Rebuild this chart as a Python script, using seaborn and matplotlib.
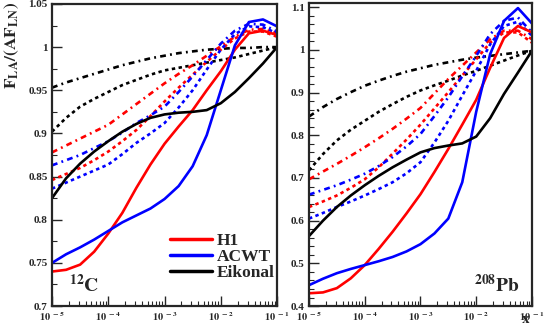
import numpy as np
import pandas as pd
import seaborn as sns
import matplotlib.pyplot as plt
from matplotlib.ticker import MultipleLocator, FormatStrFormatter, LogLocator, NullFormatter

sns.set_style('ticks')
plt.rcParams['font.family'] = ['Liberation Serif', 'DejaVu Serif']
plt.rcParams['font.weight'] = 'bold'
plt.rcParams['mathtext.fontset'] = 'stix'

# x grid (quarter decades from 1e-5 to 1e-1), same for every curve
x_vals = [1e-5, 1.78e-5, 3.16e-5, 5.62e-5, 1e-4, 1.78e-4, 3.16e-4, 5.62e-4, 1e-3,
          1.78e-3, 3.16e-3, 5.62e-3, 1e-2, 1.78e-2, 3.16e-2, 5.62e-2, 1e-1]

# 12C panel
c_h1 = [0.740, 0.742, 0.748, 0.763, 0.784, 0.808, 0.837, 0.864, 0.888, 0.908, 0.927, 0.950, 0.972, 0.997, 1.016, 1.019, 1.014]
c_h1_dd = [0.878, 0.886, 0.894, 0.902, 0.910, 0.922, 0.934, 0.946, 0.958, 0.969, 0.979, 0.990, 1.001, 1.012, 1.020, 1.021, 1.016]
c_h1_ds = [0.846, 0.853, 0.860, 0.869, 0.879, 0.891, 0.904, 0.920, 0.937, 0.953, 0.968, 0.983, 0.997, 1.010, 1.018, 1.018, 1.012]
c_acwt = [0.750, 0.760, 0.768, 0.777, 0.787, 0.797, 0.805, 0.813, 0.824, 0.839, 0.862, 0.898, 0.950, 1.002, 1.029, 1.032, 1.024]
c_acwt_dd = [0.863, 0.869, 0.875, 0.883, 0.891, 0.901, 0.912, 0.921, 0.931, 0.948, 0.966, 0.985, 1.004, 1.019, 1.027, 1.026, 1.018]
c_acwt_ds = [0.836, 0.843, 0.850, 0.857, 0.864, 0.876, 0.889, 0.900, 0.912, 0.930, 0.950, 0.974, 0.997, 1.015, 1.024, 1.023, 1.016]
c_eik = [0.825, 0.848, 0.865, 0.879, 0.891, 0.902, 0.911, 0.918, 0.922, 0.924, 0.925, 0.927, 0.935, 0.948, 0.964, 0.981, 1.000]
c_eik_dd = [0.953, 0.959, 0.964, 0.969, 0.974, 0.979, 0.983, 0.987, 0.990, 0.993, 0.995, 0.997, 0.998, 0.999, 0.999, 1.000, 1.000]
c_eik_ds = [0.902, 0.918, 0.931, 0.940, 0.948, 0.956, 0.962, 0.968, 0.973, 0.976, 0.979, 0.982, 0.985, 0.988, 0.992, 0.996, 1.000]

# 208Pb panel
pb_h1 = [0.430, 0.432, 0.442, 0.465, 0.496, 0.534, 0.574, 0.617, 0.662, 0.714, 0.768, 0.825, 0.883, 0.958, 1.028, 1.056, 1.041]
pb_h1_dd = [0.697, 0.715, 0.733, 0.752, 0.772, 0.793, 0.815, 0.839, 0.864, 0.898, 0.932, 0.963, 0.994, 1.025, 1.045, 1.045, 1.025]
pb_h1_ds = [0.632, 0.645, 0.659, 0.677, 0.697, 0.725, 0.757, 0.790, 0.825, 0.863, 0.901, 0.940, 0.978, 1.017, 1.041, 1.041, 1.017]
pb_acwt = [0.449, 0.464, 0.477, 0.487, 0.496, 0.505, 0.515, 0.528, 0.545, 0.570, 0.605, 0.690, 0.855, 0.990, 1.068, 1.098, 1.062]
pb_acwt_dd = [0.661, 0.672, 0.683, 0.696, 0.710, 0.728, 0.749, 0.774, 0.803, 0.845, 0.889, 0.938, 0.986, 1.037, 1.068, 1.076, 1.041]
pb_acwt_ds = [0.605, 0.618, 0.632, 0.645, 0.659, 0.674, 0.690, 0.711, 0.737, 0.783, 0.834, 0.893, 0.951, 1.013, 1.056, 1.066, 1.033]
pb_eik = [0.564, 0.600, 0.632, 0.659, 0.683, 0.705, 0.725, 0.743, 0.760, 0.770, 0.776, 0.781, 0.797, 0.840, 0.897, 0.947, 0.998]
pb_eik_dd = [0.844, 0.866, 0.885, 0.901, 0.916, 0.928, 0.939, 0.949, 0.957, 0.965, 0.971, 0.977, 0.982, 0.986, 0.990, 0.994, 0.998]
pb_eik_ds = [0.718, 0.756, 0.788, 0.813, 0.834, 0.855, 0.873, 0.890, 0.905, 0.917, 0.928, 0.940, 0.951, 0.963, 0.975, 0.987, 0.998]

dashdot = (0, (2.2, 1.6, 0.7, 1.6))
dashed = (0, (1.3, 1.3))

fig = plt.figure(figsize=(5.45, 3.27), dpi=100)
ax1 = fig.add_axes([0.0954, 0.064, 0.413, 0.924])
ax2 = fig.add_axes([0.567, 0.064, 0.409, 0.927])


def draw(ax, curves):
    for y, col, ls, lab in curves:
        sns.lineplot(x=x_vals, y=y, ax=ax, color=col, linestyle=ls, lw=1.9,
                     label=lab, legend=False)


draw(ax1, [
    (c_eik_dd, 'black', dashdot, None), (c_eik_ds, 'black', dashed, None),
    (c_h1_dd, 'red', dashdot, None), (c_h1_ds, 'red', dashed, None),
    (c_acwt_dd, 'blue', dashdot, None), (c_acwt_ds, 'blue', dashed, None),
    (c_h1, 'red', '-', 'H1'), (c_acwt, 'blue', '-', 'ACWT'), (c_eik, 'black', '-', 'Eikonal'),
])
draw(ax2, [
    (pb_eik_dd, 'black', dashdot, None), (pb_eik_ds, 'black', dashed, None),
    (pb_h1_dd, 'red', dashdot, None), (pb_h1_ds, 'red', dashed, None),
    (pb_acwt_dd, 'blue', dashdot, None), (pb_acwt_ds, 'blue', dashed, None),
    (pb_h1, 'red', '-', None), (pb_acwt, 'blue', '-', None), (pb_eik, 'black', '-', None),
])

for ax in (ax1, ax2):
    ax.set_xscale('log')
    ax.set_xlim(1e-5, 1e-1)
    ax.set_xticks([1e-5, 1e-4, 1e-3, 1e-2, 1e-1])
    ax.set_xticklabels([r'$\mathbf{10^{\ -%d}}$' % k for k in (5, 4, 3, 2, 1)])
    ax.xaxis.set_minor_locator(LogLocator(base=10, subs=np.arange(2, 10), numticks=20))
    ax.xaxis.set_minor_formatter(NullFormatter())
    ax.yaxis.set_major_formatter(FormatStrFormatter('%g'))
    ax.tick_params(which='major', direction='in', length=7, width=1, labelsize=8, pad=3)
    ax.tick_params(which='minor', direction='in', length=3.5, width=0.8)
    ax.tick_params(axis='x', which='major', pad=3, labelsize=7.5)
    for s in ax.spines.values():
        s.set_linewidth(1.6)
        s.set_visible(True)
    ax.set_xlabel('')
    ax.set_ylabel('')
    for lab in ax.get_yticklabels():
        lab.set_fontweight('bold')

ax1.set_ylim(0.7, 1.05)
ax1.yaxis.set_major_locator(MultipleLocator(0.05))
ax1.yaxis.set_minor_locator(MultipleLocator(0.025))
ax2.set_ylim(0.4, 1.11)
ax2.yaxis.set_major_locator(MultipleLocator(0.1))
ax2.yaxis.set_minor_locator(MultipleLocator(0.02))

ax1.legend(loc='lower right', bbox_to_anchor=(1.06, 0.03), frameon=False,
           handlelength=2.4, handletextpad=0.3, labelspacing=0.0,
           prop={'family': 'Liberation Serif', 'weight': 'bold', 'size': 12.5})
for line in ax1.get_legend().get_lines():
    line.set_linewidth(2.5)

ax1.text(0.075, 0.07, r'$^{\mathbf{12}}\mathbf{C}$', transform=ax1.transAxes,
         fontsize=14, va='center', ha='left')
ax2.text(0.74, 0.07, r'$^{\mathbf{208}}\mathbf{Pb}$', transform=ax2.transAxes,
         fontsize=14, va='center', ha='left')

fig.text(0.005, 0.995, r'$\mathbf{F_{LA}/(AF_{LN})}$', rotation=90,
         va='top', ha='left', fontsize=12.5)
fig.text(0.964, 0.002, r'$\mathbf{x}$', va='bottom', ha='center', fontsize=11)

fig.savefig('out.png', dpi=100)
